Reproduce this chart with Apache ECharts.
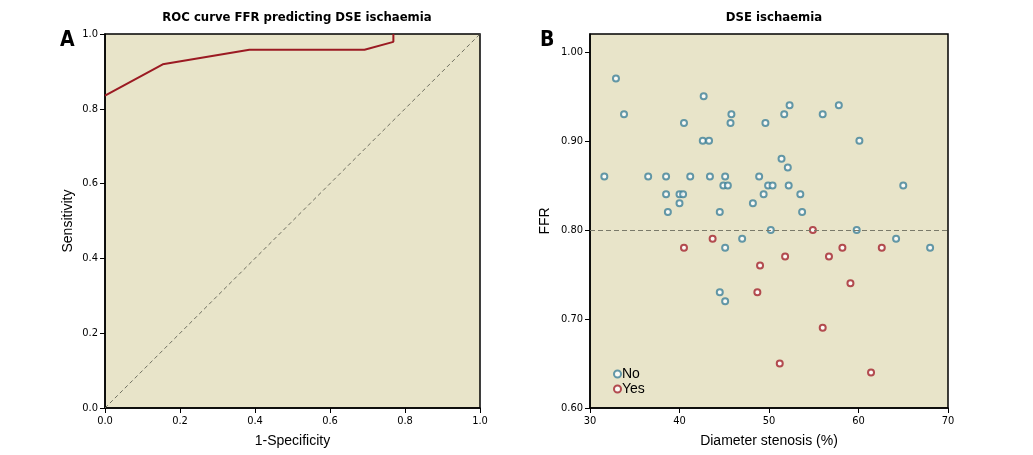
<!DOCTYPE html>
<html><head><meta charset="utf-8">
<script src="https://cdn.jsdelivr.net/npm/echarts@6/dist/echarts.min.js"></script>
<style>html,body{margin:0;padding:0;background:#fff}#c{width:1033px;height:455px}</style>
</head><body><div id="c"></div>
<script>
// ROC curve (1-Specificity, Sensitivity)
const rocX = [0, 0.154, 0.385, 0.692, 0.769, 0.769];
const rocY = [0.835, 0.919, 0.958, 0.958, 0.979, 1.0];
const refDiag = [[0, 0], [1, 1]];
const rocTicks = [0, 0.2, 0.4, 0.6, 0.8, 1.0];

// Scatter: Diameter stenosis (%) vs FFR
const noStenosis = [32.9,42.7,33.8,45.8,40.5,45.7,49.6,42.6,43.3,51.7,52.3,57.8,56.0,60.1,51.4,52.1,
  31.6,36.5,38.5,41.2,43.4,45.1,48.9, 44.9,45.4,49.9,50.4,52.2,65.0, 38.5,40.0,40.4,49.4,53.5,
  40.0,48.2, 38.7,44.5,53.7, 50.2,59.8, 47.0,64.2, 45.1,68.0, 44.5,45.1];
const noFFR = [0.97,0.95,0.93,0.93,0.92,0.92,0.92,0.90,0.90,0.93,0.94,0.94,0.93,0.90,0.88,0.87,
  0.86,0.86,0.86,0.86,0.86,0.86,0.86, 0.85,0.85,0.85,0.85,0.85,0.85, 0.84,0.84,0.84,0.84,0.84,
  0.83,0.83, 0.82,0.82,0.82, 0.80,0.80, 0.79,0.79, 0.78,0.78, 0.73,0.72];
const yesStenosis = [54.9,43.7,40.5,58.2,62.6,51.8,56.7,49.0,59.1,48.7,56.0,51.2,61.4];
const yesFFR = [0.80,0.79,0.78,0.78,0.78,0.77,0.77,0.76,0.74,0.73,0.69,0.65,0.64];
const ffrCutoff = 0.80;
const ffrTicks = [0.6, 0.7, 0.8, 0.9, 1.0];
const stenosisTicks = [30, 40, 50, 60, 70];

const BG = '#e8e4c9';
const BLUE = '#3f8199';
const RED = '#a3222c';
const COND = '"DejaVu Sans Condensed", "Liberation Sans", sans-serif';
const tickFont = {fontFamily:COND, fontSize:11, color:'#000'};
const nameFont = {fontFamily:'Liberation Sans', fontSize:14, color:'#000'};

const chart = echarts.init(document.getElementById('c'));
const axisLine = {show:true, lineStyle:{color:'#000', width:1.5}};
const axisTick = {show:true, length:5, lineStyle:{color:'#000', width:1}};

chart.setOption({
  animation:false,
  title:[
    {text:'ROC curve FFR predicting DSE ischaemia', left:292, top:6, textAlign:'center',
     textStyle:{fontFamily:COND, fontWeight:'bold', fontSize:13, color:'#000'}},
    {text:'DSE ischaemia', left:769, top:6, textAlign:'center',
     textStyle:{fontFamily:COND, fontWeight:'bold', fontSize:13, color:'#000'}}
  ],
  graphic:[
    {type:'text', left:60, top:30, style:{text:'A', font:'bold 21px "DejaVu Sans Condensed"', fill:'#000'}},
    {type:'text', left:540, top:30, style:{text:'B', font:'bold 21px "DejaVu Sans Condensed"', fill:'#000'}}
  ],
  legend:{
    data:['No','Yes'], orient:'vertical', left:608, top:362, itemWidth:7, itemHeight:7, itemGap:1,
    textStyle:{fontFamily:'Liberation Sans', fontSize:14, color:'#000', padding:[0,0,0,-4]}
  },
  grid:[
    {left:105, right:553, top:34, bottom:47, show:true, backgroundColor:BG, borderColor:'#000', borderWidth:1.5},
    {left:590, right:85, top:34, bottom:47, show:true, backgroundColor:BG, borderColor:'#000', borderWidth:1.5}
  ],
  xAxis:[
    {gridIndex:0, type:'value', min:0, max:1, interval:0.2, name:'1-Specificity', nameLocation:'middle', nameGap:26,
     nameTextStyle:nameFont, axisLine, axisTick:{...axisTick, customValues:rocTicks}, splitLine:{show:false},
     axisLabel:{...tickFont, margin:8, customValues:rocTicks, formatter:v=>v.toFixed(1)}},
    {gridIndex:1, type:'value', min:30, max:70, interval:10, name:'Diameter stenosis (%)', nameLocation:'middle', nameGap:26,
     nameTextStyle:nameFont, axisLine, axisTick:{...axisTick, customValues:stenosisTicks}, splitLine:{show:false},
     axisLabel:{...tickFont, margin:8, customValues:stenosisTicks, formatter:v=>String(v)}}
  ],
  yAxis:[
    {gridIndex:0, type:'value', min:0, max:1, interval:0.2, name:'Sensitivity', nameLocation:'middle', nameGap:30,
     nameTextStyle:nameFont, axisLine, axisTick:{...axisTick, customValues:rocTicks}, splitLine:{show:false},
     axisLabel:{...tickFont, margin:7, customValues:rocTicks, formatter:v=>v.toFixed(1)}},
    {gridIndex:1, type:'value', min:0.6, max:1.02, name:'FFR', nameLocation:'middle', nameGap:38,
     nameTextStyle:nameFont, axisLine, axisTick:{...axisTick, customValues:ffrTicks}, splitLine:{show:false},
     axisLabel:{...tickFont, margin:7, customValues:ffrTicks, formatter:v=>v.toFixed(2)}}
  ],
  series:[
    {type:'line', xAxisIndex:0, yAxisIndex:0, data:refDiag, symbol:'none', silent:true,
     lineStyle:{color:'#6f6f60', width:1, type:[4,3]}},
    {type:'line', xAxisIndex:0, yAxisIndex:0, data:rocX.map((x,i)=>[x,rocY[i]]), symbol:'none',
     lineStyle:{color:'#9b1a22', width:2}},
    {name:'No', type:'scatter', xAxisIndex:1, yAxisIndex:1, data:noStenosis.map((x,i)=>[x,noFFR[i]]),
     symbol:'emptyCircle', symbolSize:6, itemStyle:{color:BLUE, borderColor:BLUE, borderWidth:1.3},
     markLine:{silent:true, symbol:'none', label:{show:false}, lineStyle:{color:'#7a7a6a', width:1, type:[5,3]},
       data:[{yAxis:ffrCutoff}]}},
    {name:'Yes', type:'scatter', xAxisIndex:1, yAxisIndex:1, data:yesStenosis.map((x,i)=>[x,yesFFR[i]]),
     symbol:'emptyCircle', symbolSize:6, itemStyle:{color:RED, borderColor:RED, borderWidth:1.3}}
  ]
});
</script></body></html>
